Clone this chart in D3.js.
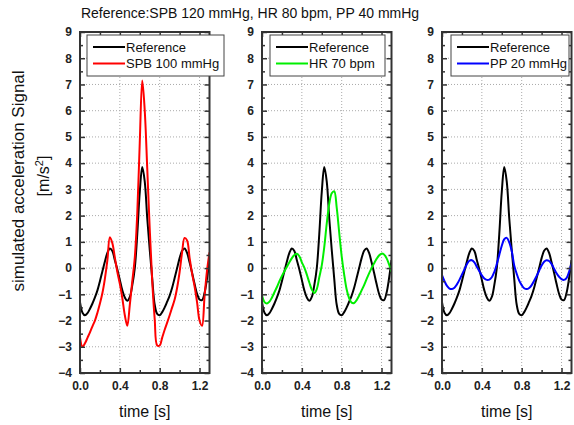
<!DOCTYPE html>
<html>
<head>
<meta charset="utf-8">
<style>
  body { margin: 0; background: #fff; }
  svg { font-family: "Liberation Sans", Arial, sans-serif; }
</style>
</head>
<body>
<svg width="574" height="425"></svg>
<script src="https://d3js.org/d3.v7.min.js"></script>
<script>

// simulated acceleration signal, three comparisons against the reference pulse

var times = [0.000, 0.025, 0.050, 0.075, 0.100, 0.125, 0.150, 0.175, 0.200, 0.225,
             0.250, 0.275, 0.300, 0.325, 0.350, 0.375, 0.400, 0.425, 0.450, 0.475,
             0.500, 0.525, 0.550, 0.575, 0.600, 0.625, 0.650, 0.675, 0.700, 0.725,
             0.750, 0.775, 0.800, 0.825, 0.850, 0.875, 0.900, 0.925, 0.950, 0.975,
             1.000, 1.025, 1.050, 1.075, 1.100, 1.125, 1.150, 1.175, 1.200, 1.225,
             1.250, 1.275, 1.300];

// Reference: SPB 120 mmHg, HR 80 bpm, PP 40 mmHg
var reference = [-1.30, -1.70, -1.80, -1.72, -1.55, -1.35, -1.12, -0.85, -0.50, -0.12,
                 0.25, 0.58, 0.75, 0.65, 0.30, -0.05, -0.45, -0.85, -1.12, -1.25,
                 -1.10, -0.65, 0.00, 1.30, 2.90, 3.85, 3.30, 1.90, 0.70, -0.40,
                 -1.40, -1.75, -1.80, -1.68, -1.50, -1.28, -1.05, -0.75, -0.38, 0.00,
                 0.38, 0.66, 0.75, 0.58, 0.22, -0.18, -0.60, -0.98, -1.20, -1.22,
                 -0.95, -0.40, 0.30];

var spb100 = [-2.63, -3.00, -2.87, -2.66, -2.45, -2.22, -2.00, -1.70, -1.35, -0.95,
              -0.40, 0.30, 1.18, 0.95, 0.40, -0.15, -0.60, -1.15, -1.80, -2.20,
              -1.40, -0.50, 0.40, 2.10, 4.80, 7.15, 6.00, 3.80, 1.50, -0.50,
              -1.95, -2.95, -2.95, -2.65, -2.35, -2.08, -1.80, -1.50, -1.20, -0.75,
              -0.15, 0.60, 1.15, 1.05, 0.40, -0.20, -0.70, -1.30, -2.00, -2.20,
              -1.10, -0.10, 0.60];

var hr70 = [-1.04, -1.30, -1.35, -1.28, -1.12, -0.92, -0.72, -0.50, -0.30, -0.12,
            0.05, 0.22, 0.38, 0.50, 0.55, 0.45, 0.22, 0.02, -0.25, -0.55,
            -0.82, -0.95, -0.80, -0.35, 0.10, 0.80, 1.70, 2.45, 2.85, 2.93,
            2.30, 1.35, 0.45, -0.25, -0.82, -1.15, -1.32, -1.33, -1.22, -1.05,
            -0.85, -0.65, -0.42, -0.20, 0.00, 0.18, 0.35, 0.48, 0.55, 0.52,
            0.38, 0.15, -0.15];

var pp20 = [-0.27, -0.50, -0.68, -0.78, -0.80, -0.75, -0.62, -0.45, -0.25, -0.05,
            0.15, 0.28, 0.30, 0.22, 0.05, -0.12, -0.28, -0.40, -0.45, -0.44,
            -0.35, -0.15, 0.15, 0.50, 0.85, 1.10, 1.15, 0.98, 0.65, 0.10,
            -0.22, -0.48, -0.65, -0.77, -0.80, -0.76, -0.65, -0.48, -0.30, -0.10,
            0.10, 0.24, 0.30, 0.27, 0.15, -0.02, -0.20, -0.33, -0.42, -0.45,
            -0.38, -0.15, 0.17];

var yMajor = [-4, -3, -2, -1, 0, 1, 2, 3, 4, 5, 6, 7, 8, 9];
var yMinor = [-3.5, -2.5, -1.5, -0.5, 0.5, 1.5, 2.5, 3.5, 4.5, 5.5, 6.5, 7.5, 8.5];
var xMajor = [0, 0.4, 0.8, 1.2];
var xMinor = [0.2, 0.6, 1.0];

var legendNames = ["SPB 100 mmHg", "HR 70 bpm", "PP 20 mmHg"];
var seriesList = [spb100, hr70, pp20];
var seriesColors = ["#ff0000", "#00ee00", "#0000ff"];

var svg = d3.select("svg");
var plotTop = 32, plotBottom = 373, panelWidth = 129.5;
var lefts = [80, 262, 442];
var legendBoxes = [
  {x: 87, w: 137},
  {x: 270, w: 115},
  {x: 451, w: 118}
];

var y = d3.scaleLinear().domain([-4, 9]).range([plotBottom, plotTop]);

svg.append("text")
    .attr("x", 250).attr("y", 18)
    .attr("text-anchor", "middle")
    .attr("font-size", 14)
    .attr("fill", "#111")
    .text("Reference:SPB 120 mmHg, HR 80 bpm, PP 40 mmHg");

svg.append("text")
    .attr("transform", "translate(24,181) rotate(-90)")
    .attr("text-anchor", "middle")
    .attr("font-size", 17)
    .attr("fill", "#111")
    .text("simulated acceleration Signal");

var unit = svg.append("text")
    .attr("transform", "translate(49,176) rotate(-90)")
    .attr("text-anchor", "middle")
    .attr("font-size", 16)
    .attr("fill", "#111");
unit.append("tspan").text("[m/s");
unit.append("tspan").attr("font-size", 11).attr("dy", -6).text("2");
unit.append("tspan").attr("dy", 6).text("]");

lefts.forEach(function(left, i) {
  var x = d3.scaleLinear().domain([0, 1.3]).range([left, left + panelWidth]);
  var g = svg.append("g");

  g.append("clipPath").attr("id", "clip" + i)
    .append("rect")
      .attr("x", left).attr("y", plotTop)
      .attr("width", panelWidth).attr("height", plotBottom - plotTop);

  // dotted grid at the major ticks
  g.selectAll(".gx").data(xMajor.slice(1)).enter().append("line")
      .attr("x1", function(d) { return x(d); }).attr("x2", function(d) { return x(d); })
      .attr("y1", plotTop).attr("y2", plotBottom)
      .attr("stroke", "#aaa").attr("stroke-dasharray", "1,2");
  g.selectAll(".gy").data(yMajor.slice(1, -1)).enter().append("line")
      .attr("y1", function(d) { return y(d); }).attr("y2", function(d) { return y(d); })
      .attr("x1", left).attr("x2", left + panelWidth)
      .attr("stroke", "#aaa").attr("stroke-dasharray", "1,2");

  var line = d3.line()
      .x(function(d, j) { return x(times[j]); })
      .y(function(d) { return y(d); })
      .curve(d3.curveCatmullRom);

  var curves = g.append("g").attr("clip-path", "url(#clip" + i + ")");
  curves.append("path")
      .datum(reference)
      .attr("fill", "none")
      .attr("stroke", "#000")
      .attr("stroke-width", 2)
      .attr("d", line);
  curves.append("path")
      .datum(seriesList[i])
      .attr("fill", "none")
      .attr("stroke", seriesColors[i])
      .attr("stroke-width", 2)
      .attr("d", line);

  // axes, ticks pointing inward
  function styleAxis(sel) {
    sel.select(".domain").remove();
    sel.selectAll(".tick line").attr("stroke", "#333").attr("stroke-width", 1.5);
    sel.selectAll("text").attr("font-size", 12).attr("font-weight", "bold")
        .attr("fill", "#222").attr("font-family", "Liberation Sans, Arial, sans-serif");
  }

  g.append("g").attr("transform", "translate(" + left + ",0)")
      .call(d3.axisLeft(y).tickValues(yMajor).tickSize(-5).tickPadding(8).tickFormat(d3.format("d")))
      .call(styleAxis);
  g.append("g").attr("transform", "translate(" + left + ",0)")
      .call(d3.axisLeft(y).tickValues(yMinor).tickSize(-3).tickFormat(""))
      .call(styleAxis);
  g.append("g").attr("transform", "translate(" + (left + panelWidth) + ",0)")
      .call(d3.axisRight(y).tickValues(yMajor).tickSize(-5).tickFormat(""))
      .call(styleAxis);
  g.append("g").attr("transform", "translate(" + (left + panelWidth) + ",0)")
      .call(d3.axisRight(y).tickValues(yMinor).tickSize(-3).tickFormat(""))
      .call(styleAxis);

  g.append("g").attr("transform", "translate(0," + plotBottom + ")")
      .call(d3.axisBottom(x).tickValues(xMajor).tickSize(-5).tickPadding(8).tickFormat(d3.format(".1f")))
      .call(styleAxis);
  g.append("g").attr("transform", "translate(0," + plotBottom + ")")
      .call(d3.axisBottom(x).tickValues(xMinor).tickSize(-3).tickFormat(""))
      .call(styleAxis);
  g.append("g").attr("transform", "translate(0," + plotTop + ")")
      .call(d3.axisTop(x).tickValues(xMajor).tickSize(-5).tickFormat(""))
      .call(styleAxis);
  g.append("g").attr("transform", "translate(0," + plotTop + ")")
      .call(d3.axisTop(x).tickValues(xMinor).tickSize(-3).tickFormat(""))
      .call(styleAxis);

  g.append("rect")
      .attr("x", left).attr("y", plotTop)
      .attr("width", panelWidth).attr("height", plotBottom - plotTop)
      .attr("fill", "none").attr("stroke", "#333").attr("stroke-width", 2);

  g.append("text")
      .attr("x", left + panelWidth / 2).attr("y", 417)
      .attr("text-anchor", "middle")
      .attr("font-size", 16)
      .attr("fill", "#111")
      .text("time [s]");

  // legend
  var lb = legendBoxes[i];
  var leg = g.append("g").attr("transform", "translate(" + lb.x + ",35)");
  leg.append("rect")
      .attr("width", lb.w).attr("height", 41)
      .attr("fill", "#fff").attr("stroke", "#444").attr("stroke-width", 1);
  var entries = [{name: "Reference", color: "#000"}, {name: legendNames[i], color: seriesColors[i]}];
  entries.forEach(function(e, k) {
    var yy = 12 + k * 16.5;
    leg.append("line")
        .attr("x1", 6).attr("x2", 38).attr("y1", yy).attr("y2", yy)
        .attr("stroke", e.color).attr("stroke-width", 2);
    leg.append("text")
        .attr("x", 39).attr("y", yy + 4.5)
        .attr("font-size", 13)
        .attr("fill", "#111")
        .text(e.name);
  });
});

</script>
</body>
</html>
